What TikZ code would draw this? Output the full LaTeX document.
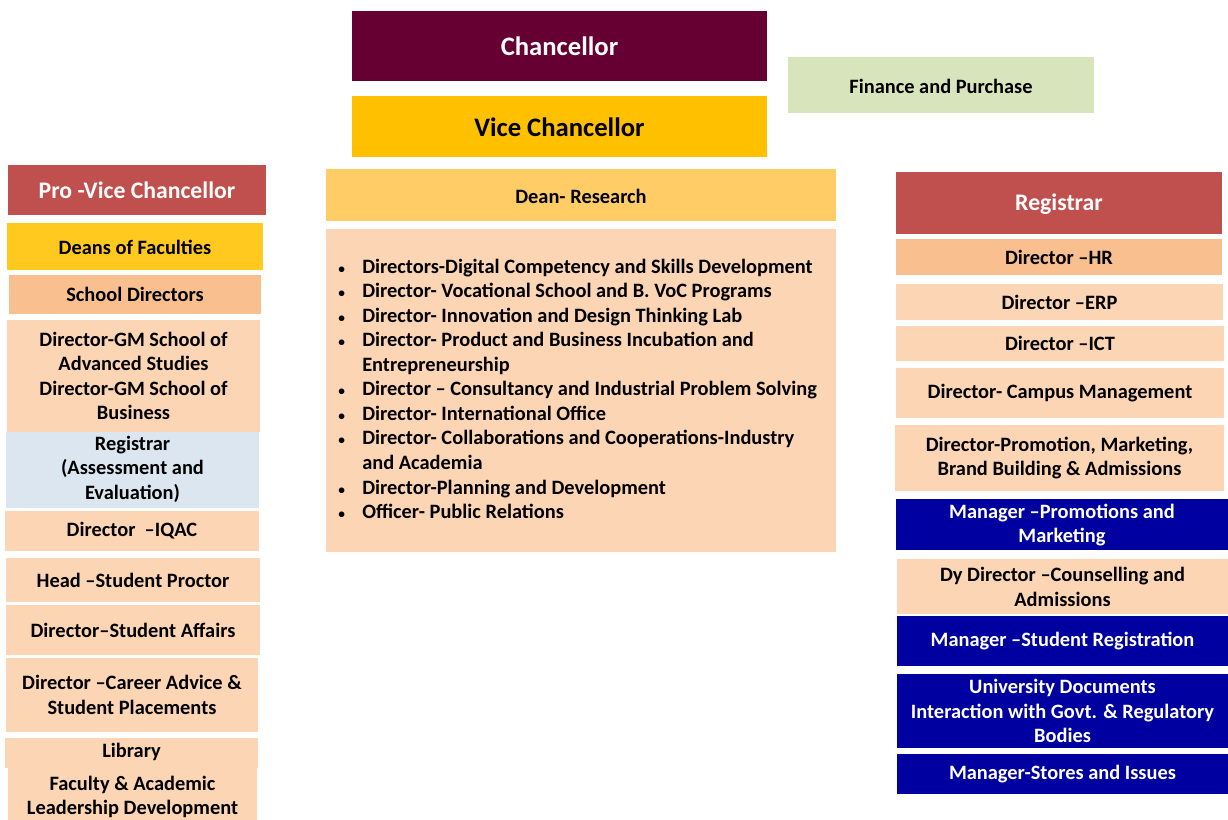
\documentclass[tikz,border=0pt]{standalone}
\usepackage{fontspec}
\setmainfont{Carlito}
\usetikzlibrary{positioning}

\definecolor{chanc}{RGB}{102,0,51}
\definecolor{vcyel}{RGB}{255,192,0}
\definecolor{finance}{RGB}{216,228,188}
\definecolor{deanres}{RGB}{255,204,102}
\definecolor{peach}{RGB}{252,213,180}
\definecolor{tan}{RGB}{250,191,143}
\definecolor{brick}{RGB}{192,80,77}
\definecolor{dfyel}{RGB}{255,201,31}
\definecolor{lblue}{RGB}{220,230,241}
\definecolor{navy}{RGB}{0,0,160}

\tikzset{
  lbl/.style={inner sep=0pt, align=center, font=\fontsize{15.3}{18.4}\selectfont\bfseries},
  title/.style={lbl, font=\fontsize{20}{22}\selectfont\bfseries},
  head/.style={lbl, font=\fontsize{17.8}{20}\selectfont\bfseries, text=white},
  wlbl/.style={lbl, text=white}
}

\begin{document}
\begin{tikzpicture}[x=0.75pt, y=-0.75pt]
  \useasboundingbox (0,0) rectangle (1228,820);

  % 色塊
  \foreach \xa/\ya/\xb/\yb/\c in {
      352/11/767/81/chanc, 788/57/1094/113/finance, 352/96/767/157/vcyel,
      326/169/836/221/deanres, 326/229/836/552/peach,
      8/165/266/215/brick, 7/223/263/270/dfyel, 9/275/261/314/tan,
      7/320/260/432/peach, 6/432/259/508/lblue, 5/511/259/551/peach,
      6/558/260/602/peach, 6/605/260/655/peach, 6/658/258/732/peach,
      5/738/258/768/peach, 8/768/257/820/peach,
      896/172/1222/234/brick, 896/239/1222/275/tan, 896/284/1223/320/peach,
      896/326/1224/361/peach, 896/368/1224/418/peach, 895/425/1224/491/peach,
      896/499/1228/550/navy, 897/559/1228/614/peach, 897/616/1228/666/navy,
      897/674/1228/748/navy, 897/754/1228/794/navy}
    \fill[\c] (\xa,\ya) rectangle (\xb,\yb);

  \def\bul{{\fontsize{10}{10}\selectfont\textbullet}}

  % 上方
  \node[title, text=white] (chancellor) at (559.5,46) {Chancellor};
  \node[lbl] (finance) at (941,86) {Finance and Purchase};
  \node[title] (vc) at (559.5,127) {Vice Chancellor};
  \node[lbl] (dean) at (581,196) {Dean- Research};
  \node[lbl, anchor=west, align=left] (list) at (338,391) {%
    \begin{tabular}{@{}p{18pt}@{}l@{}}
      \bul & Directors-Digital Competency and Skills Development\\
      \bul & Director- Vocational School and B. VoC Programs\\
      \bul & Director- Innovation and Design Thinking Lab\\
      \bul & Director- Product and Business Incubation and\\
           & Entrepreneurship\\
      \bul & Director -- Consultancy and Industrial Problem Solving\\
      \bul & Director- International Office\\
      \bul & Director- Collaborations and Cooperations-Industry\\
           & and Academia\\
      \bul & Director-Planning and Development\\
      \bul & Officer- Public Relations
    \end{tabular}};

  % 左欄
  \node[head] (provc) at (137,190) {Pro -Vice Chancellor};
  \node[lbl] (deans) at (135,247) {Deans of Faculties};
  \node[lbl] (schdir) at (135,294) {School Directors};
  \node[lbl] (gm) at (133.5,376) {Director-GM School of\\Advanced Studies\\Director-GM School of\\Business};
  \node[lbl] (regae) at (132.5,469) {Registrar\\(Assessment and\\Evaluation)};
  \node[lbl] (iqac) at (132,531) {Director\ \ --IQAC};
  \node[lbl] (proctor) at (133,580) {Head --Student Proctor};
  \node[lbl] (affairs) at (133,630) {Director--Student Affairs};
  \node[lbl] (career) at (132,695) {Director --Career Advice \&\\Student Placements};
  \node[lbl] (library) at (131.5,752) {Library};
  \node[lbl] (faculty) at (132.5,797) {Faculty \& Academic\\Leadership Development};

  % 右欄
  \node[head] (registrar) at (1059,204) {Registrar};
  \node[lbl] (hr) at (1059,257) {Director --HR};
  \node[lbl] (erp) at (1059.5,302) {Director --ERP};
  \node[lbl] (ict) at (1060,343) {Director --ICT};
  \node[lbl] (campus) at (1060,393) {Director- Campus Management};
  \node[lbl] (promo) at (1059.5,458) {Director-Promotion, Marketing,\\Brand Building \& Admissions};
  \node[wlbl] (mgrpromo) at (1062,525) {Manager --Promotions and\\Marketing};
  \node[lbl] (dydir) at (1062.5,587) {Dy Director --Counselling and\\Admissions};
  \node[wlbl] (mgrreg) at (1062.5,641) {Manager --Student Registration};
  \node[wlbl] (univ) at (1062.5,711) {University Documents\\Interaction with Govt. \& Regulatory\\Bodies};
  \node[wlbl] (stores) at (1062.5,774) {Manager-Stores and Issues};
\end{tikzpicture}
\end{document}
